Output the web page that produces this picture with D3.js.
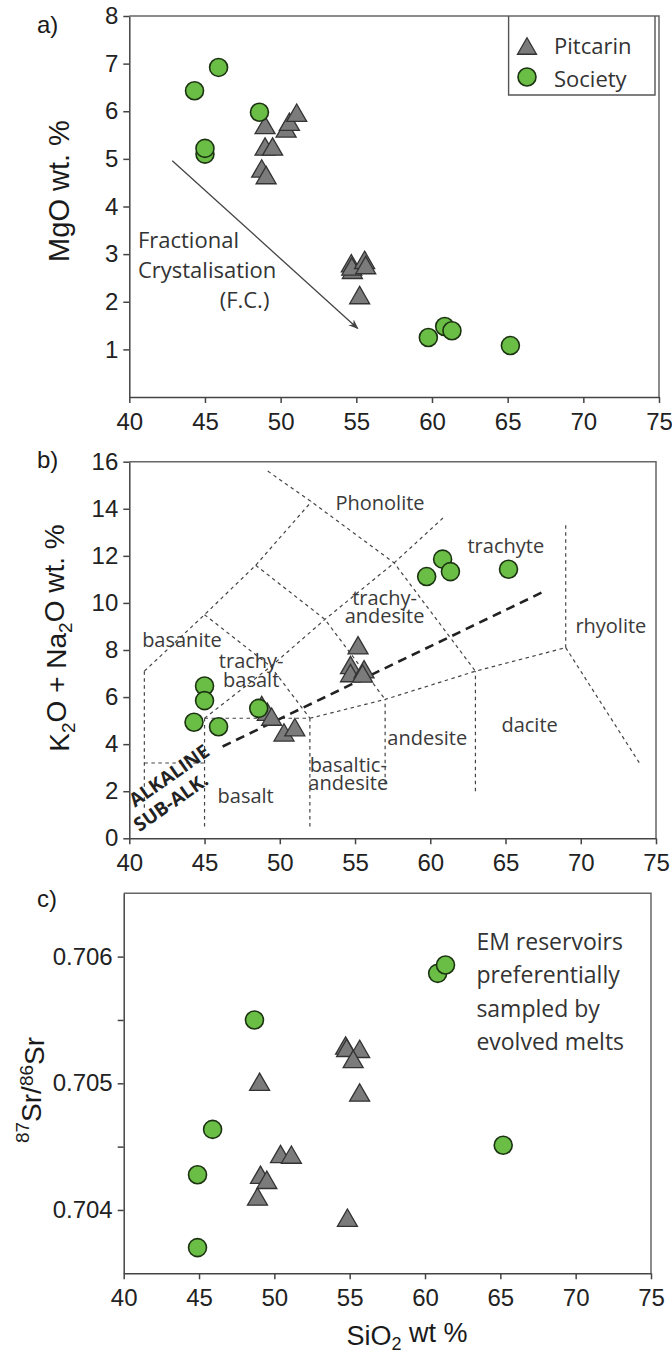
<!DOCTYPE html>
<html>
<head>
<meta charset="utf-8">
<script src="https://cdn.jsdelivr.net/npm/d3@7"></script>
<style>
body{margin:0;background:#fff;}
svg{display:block;}
.axis path, .axis line{stroke:#444;stroke-width:1.5;}
.axis text{font-family:"Liberation Sans",Arial,sans-serif;font-size:24px;fill:#222;}
.title{font-family:"Liberation Sans",Arial,sans-serif;fill:#1a1a1a;}
.note{font-family:"Open Sans",sans-serif;fill:#333;}
</style>
</head>
<body>
<svg id="chart" width="672" height="1356"></svg>
<script>
// ---- values ----
// a) SiO2 vs MgO
const pitA_SiO2 = [48.97, 48.97, 49.47, 48.75, 49.04, 50.36, 50.58, 51.06, 54.67, 54.74, 54.7, 55.55, 55.62, 55.22];
const pitA_MgO  = [5.71, 5.26, 5.26, 4.80, 4.66, 5.64, 5.78, 5.97, 2.81, 2.67, 2.74, 2.88, 2.77, 2.14];
const socA_SiO2 = [44.31, 45.9, 48.6, 45.0, 45.0, 59.76, 60.84, 61.32, 65.18];
const socA_MgO  = [6.43, 6.92, 5.98, 5.10, 5.22, 1.25, 1.48, 1.39, 1.08];

// b) total alkalis vs silica
const pitB_SiO2 = [48.8, 49.17, 49.46, 50.28, 51.0, 55.2, 54.7, 54.7, 55.6, 55.5];
const pitB_Alk  = [5.66, 5.38, 5.17, 4.5, 4.72, 8.2, 7.36, 7.02, 7.18, 7.0];
const socB_SiO2 = [45.0, 45.0, 44.3, 45.93, 48.6, 59.76, 60.82, 61.34, 65.2];
const socB_Alk  = [6.47, 5.85, 4.93, 4.74, 5.52, 11.12, 11.86, 11.33, 11.43];

// c) 87Sr/86Sr vs silica
const pitC_SiO2 = [49.02, 49.08, 49.5, 48.88, 50.41, 51.13, 54.73, 54.8, 55.66, 55.23, 55.66, 54.85];
const pitC_Sr   = [0.705012, 0.704278, 0.704238, 0.704106, 0.704442, 0.704437, 0.705298, 0.70528, 0.705272, 0.705192, 0.704927, 0.703939];
const socC_SiO2 = [48.68, 45.9, 44.9, 44.9, 60.84, 61.36, 65.19];
const socC_Sr   = [0.7055, 0.704636, 0.704278, 0.703703, 0.705868, 0.705934, 0.704511];

// ticks
const siTicks = [40, 45, 50, 55, 60, 65, 70, 75];
const mgoTicks = [1, 2, 3, 4, 5, 6, 7, 8];
const alkTicks = [0, 2, 4, 6, 8, 10, 12, 14, 16];
const srTicks = [0.704, 0.7045, 0.705, 0.7055, 0.706];
const srLabelled = [0.704, 0.705, 0.706];

// TAS field boundaries (SiO2, Na2O+K2O)
const tasBounds = [
	[[49.2, 15.6], [52.1, 14.3], [57.6, 11.7], [63, 7.1]],
	[[41, 7.1], [45, 9.5], [48.4, 11.6], [52.1, 14.3]],
	[[45, 9.5], [49.4, 7.3], [52, 5.1]],
	[[48.4, 11.6], [53, 9.3], [57, 5.9]],
	[[45, 5.1], [49.4, 7.3], [53, 9.3], [57.6, 11.7], [61, 13.7]],
	[[45, 5.1], [52, 5.1]],
	[[52, 5.1], [57, 5.9], [63, 7.1], [69, 8.1]],
	[[41, 1.3], [41, 7.1]],
	[[41, 3.2], [45, 3.2]],
	[[45, 0.5], [45, 5.1]],
	[[52, 0.5], [52, 5.1]],
	[[57, 2.3], [57, 5.9]],
	[[63, 2.0], [63, 7.1]],
	[[69, 8.1], [69, 13.4]],
	[[69, 8.1], [74, 3.1]]
];
const alkDivide = [[46.2, 3.9], [67.6, 10.5]];
// field names: lines, SiO2, alkalis of first baseline
const tasNames = [
	[["Phonolite"], 56.66, 13.95], [["trachyte"], 65.02, 12.11],
	[["trachy-", "andesite"], 56.96, 9.92],
	[["rhyolite"], 72.0, 8.71], [["basanite"], 43.5, 8.14],
	[["trachy-", "basalt"], 48.1, 7.22],
	[["andesite"], 59.8, 3.97], [["dacite"], 66.6, 4.53],
	[["basaltic-", "andesite"], 54.55, 2.83],
	[["basalt"], 47.73, 1.49]
];

// annotations
const fcArrow = [[42.84, 4.96], [55.09, 1.44]];
const fcLines = ["Fractional", "Crystalisation"];
const emLines = ["EM reservoirs", "preferentially", "sampled by", "evolved melts"];

let svg = d3.select("#chart");

svg.append("defs").append("marker")
	.attr("id", "arrow")
	.attr("viewBox", "0 0 10 8")
	.attr("refX", 9).attr("refY", 4)
	.attr("markerWidth", 10).attr("markerHeight", 8)
	.attr("markerUnits", "userSpaceOnUse")
	.attr("orient", "auto")
	.append("path")
	.attr("d", "M0,0 L10,4 L0,8 L3,4 Z")
	.attr("fill", "#444");

// equilateral triangle, centred on its box
const triSym = {
	draw: function(ctx, s){
		let h = s*0.866;
		ctx.moveTo(0, -h/2);
		ctx.lineTo(s/2, h/2);
		ctx.lineTo(-s/2, h/2);
		ctx.closePath();
	}
};

function makePanel(box, yDom, yTicks, yFmt){
	let x = d3.scaleLinear().domain([40, 75]).range([box.left, box.right]);
	let y = d3.scaleLinear().domain(yDom).range([box.bottom, box.top]);
	let g = svg.append("g");

	//frame top + right
	g.append("path")
		.attr("d", "M" + box.left + "," + box.top + "H" + box.right + "V" + box.bottom)
		.attr("fill", "none")
		.attr("stroke", "#666")
		.attr("stroke-width", 1.5);

	g.append("g").attr("class", "axis")
		.attr("transform", "translate(0," + box.bottom + ")")
		.call(d3.axisBottom(x).tickValues(siTicks).tickSize(6).tickSizeOuter(0).tickPadding(10).tickFormat(d3.format("d")));
	g.append("g").attr("class", "axis")
		.attr("transform", "translate(" + box.left + ",0)")
		.call(d3.axisLeft(y).tickValues(yTicks).tickSize(6).tickSizeOuter(0).tickPadding(5).tickFormat(yFmt));

	return {g: g, x: x, y: y};
}

function drawPoints(p, xs, ys, kind){
	let pts = xs.map(function(d, i){ return [d, ys[i]]; });
	if(kind == "tri"){
		p.g.append("g").selectAll("path")
			.data(pts).enter().append("path")
			.attr("d", d3.symbol().type(triSym).size(20))
			.attr("transform", function(d){ return "translate(" + p.x(d[0]) + "," + p.y(d[1]) + ")"; })
			.attr("fill", "#7b7b7b")
			.attr("stroke", "#333")
			.attr("stroke-width", 1.3);
	}else{
		p.g.append("g").selectAll("circle")
			.data(pts).enter().append("circle")
			.attr("cx", function(d){ return p.x(d[0]); })
			.attr("cy", function(d){ return p.y(d[1]); })
			.attr("r", 9)
			.attr("fill", "#6abd45")
			.attr("stroke", "#1c3312")
			.attr("stroke-width", 1.6);
	}
}

// ================= a) =================
let pa = makePanel({left: 129.3, right: 659, top: 16, bottom: 397}, [0, 8], mgoTicks, d3.format("d"));

pa.g.append("line")
	.attr("x1", pa.x(fcArrow[0][0])).attr("y1", pa.y(fcArrow[0][1]))
	.attr("x2", pa.x(fcArrow[1][0])).attr("y2", pa.y(fcArrow[1][1]))
	.attr("stroke", "#444")
	.attr("stroke-width", 1.3)
	.attr("marker-end", "url(#arrow)");

let fc = pa.g.append("text")
	.attr("class", "note")
	.attr("x", pa.x(40.57)).attr("y", pa.y(3.13))
	.style("font-size", "22px");
fc.selectAll("tspan").data(fcLines).enter().append("tspan")
	.attr("x", pa.x(40.57))
	.attr("dy", function(d, i){ return i == 0 ? 0 : "1.36em"; })
	.text(function(d){ return d; });
fc.append("tspan")
	.attr("x", pa.x(45.97)).attr("dy", "1.36em")
	.text("(F.C.)");

drawPoints(pa, pitA_SiO2, pitA_MgO, "tri");
drawPoints(pa, socA_SiO2, socA_MgO, "circ");

// legend
let lg = svg.append("g");
lg.append("path")
	.attr("d", "M508.6,16V95H655V16")
	.attr("fill", "none")
	.attr("stroke", "#555")
	.attr("stroke-width", 1.4);
lg.append("path")
	.attr("d", d3.symbol().type(triSym).size(19))
	.attr("transform", "translate(527,46)")
	.attr("fill", "#7b7b7b").attr("stroke", "#333").attr("stroke-width", 1.3);
lg.append("circle")
	.attr("cx", 527).attr("cy", 77).attr("r", 9)
	.attr("fill", "#6abd45").attr("stroke", "#1c3312").attr("stroke-width", 1.6);
lg.append("text").attr("class", "note").attr("x", 554).attr("y", 54).style("font-size", "22px").text("Pitcarin");
lg.append("text").attr("class", "note").attr("x", 554).attr("y", 87).style("font-size", "22px").text("Society");

svg.append("text").attr("class", "title").attr("x", 37).attr("y", 33).style("font-size", "24px").text("a)");
svg.append("text").attr("class", "title")
	.attr("transform", "translate(69,191) rotate(-90)")
	.attr("text-anchor", "middle")
	.style("font-size", "29px")
	.text("MgO wt. %");

// ================= b) =================
let pb = makePanel({left: 129.3, right: 656, top: 461.7, bottom: 838.3}, [0, 16], alkTicks, d3.format("d"));

let tasLine = d3.line().x(function(d){ return pb.x(d[0]); }).y(function(d){ return pb.y(d[1]); });
pb.g.append("g").selectAll("path")
	.data(tasBounds).enter().append("path")
	.attr("d", tasLine)
	.attr("fill", "none")
	.attr("stroke", "#444")
	.attr("stroke-width", 1.2)
	.attr("stroke-dasharray", "3.5,3.5");
pb.g.append("path")
	.attr("d", tasLine(alkDivide))
	.attr("fill", "none")
	.attr("stroke", "#222")
	.attr("stroke-width", 2.6)
	.attr("stroke-dasharray", "9,6");

let names = pb.g.append("g").selectAll("text")
	.data(tasNames).enter().append("text")
	.attr("class", "note")
	.attr("y", function(d){ return pb.y(d[2]); })
	.attr("text-anchor", "middle")
	.style("font-size", "20px")
	.style("fill", "#3a3a3a");
names.selectAll("tspan")
	.data(function(d){ return d[0].map(function(t){ return [t, d[1]]; }); })
	.enter().append("tspan")
	.attr("x", function(d){ return pb.x(d[1]); })
	.attr("dy", function(d, i){ return i == 0 ? 0 : "0.92em"; })
	.text(function(d){ return d[0]; });

let alkText = pb.g.append("text")
	.attr("transform", "translate(" + pb.x(43.05) + "," + pb.y(2.3) + ") rotate(-35)")
	.attr("text-anchor", "middle")
	.style("font-family", "'Open Sans',sans-serif").style("font-weight", "bold").style("font-size", "19px").style("fill", "#222");
alkText.append("tspan").attr("x", 0).attr("dy", "-0.2em").text("ALKALINE");
alkText.append("tspan").attr("x", -14).attr("dy", "1.2em").text("SUB-ALK.");

drawPoints(pb, pitB_SiO2, pitB_Alk, "tri");
drawPoints(pb, socB_SiO2, socB_Alk, "circ");

svg.append("text").attr("class", "title").attr("x", 37).attr("y", 468).style("font-size", "24px").text("b)");
let yb = svg.append("text").attr("class", "title")
	.attr("transform", "translate(69,638) rotate(-90)")
	.attr("text-anchor", "middle")
	.style("font-size", "28px");
yb.append("tspan").text("K");
yb.append("tspan").attr("dy", "0.3em").style("font-size", "19px").text("2");
yb.append("tspan").attr("dy", "-0.3em").text("O + Na");
yb.append("tspan").attr("dy", "0.3em").style("font-size", "19px").text("2");
yb.append("tspan").attr("dy", "-0.3em").text("O wt. %");

// ================= c) =================
let pc = makePanel({left: 123.7, right: 651, top: 893.3, bottom: 1273.3}, [0.7035, 0.7065], srTicks,
	function(d){ return srLabelled.indexOf(d) >= 0 ? d3.format(".3f")(d) : ""; });

pc.g.append("text")
	.attr("class", "note")
	.attr("x", pc.x(63.41)).attr("y", pc.y(0.706053))
	.style("font-size", "23px")
	.selectAll("tspan").data(emLines).enter().append("tspan")
	.attr("x", pc.x(63.41))
	.attr("dy", function(d, i){ return i == 0 ? 0 : "1.45em"; })
	.text(function(d){ return d; });

drawPoints(pc, pitC_SiO2, pitC_Sr, "tri");
drawPoints(pc, socC_SiO2, socC_Sr, "circ");

svg.append("text").attr("class", "title").attr("x", 37).attr("y", 907).style("font-size", "24px").text("c)");
let yc = svg.append("text").attr("class", "title")
	.attr("transform", "translate(37,1090) rotate(-90)")
	.attr("text-anchor", "middle")
	.style("font-size", "28px");
yc.append("tspan").attr("dy", "-0.4em").style("font-size", "19px").text("87");
yc.append("tspan").attr("dy", "0.4em").text("Sr/");
yc.append("tspan").attr("dy", "-0.4em").style("font-size", "19px").text("86");
yc.append("tspan").attr("dy", "0.4em").text("Sr");

let xc = svg.append("text").attr("class", "title")
	.attr("x", 407).attr("y", 1345)
	.attr("text-anchor", "middle")
	.style("font-size", "27px");
xc.append("tspan").text("SiO");
xc.append("tspan").attr("dy", "0.3em").style("font-size", "18px").text("2");
xc.append("tspan").attr("dy", "-0.3em").text(" wt %");
</script>
</body>
</html>
